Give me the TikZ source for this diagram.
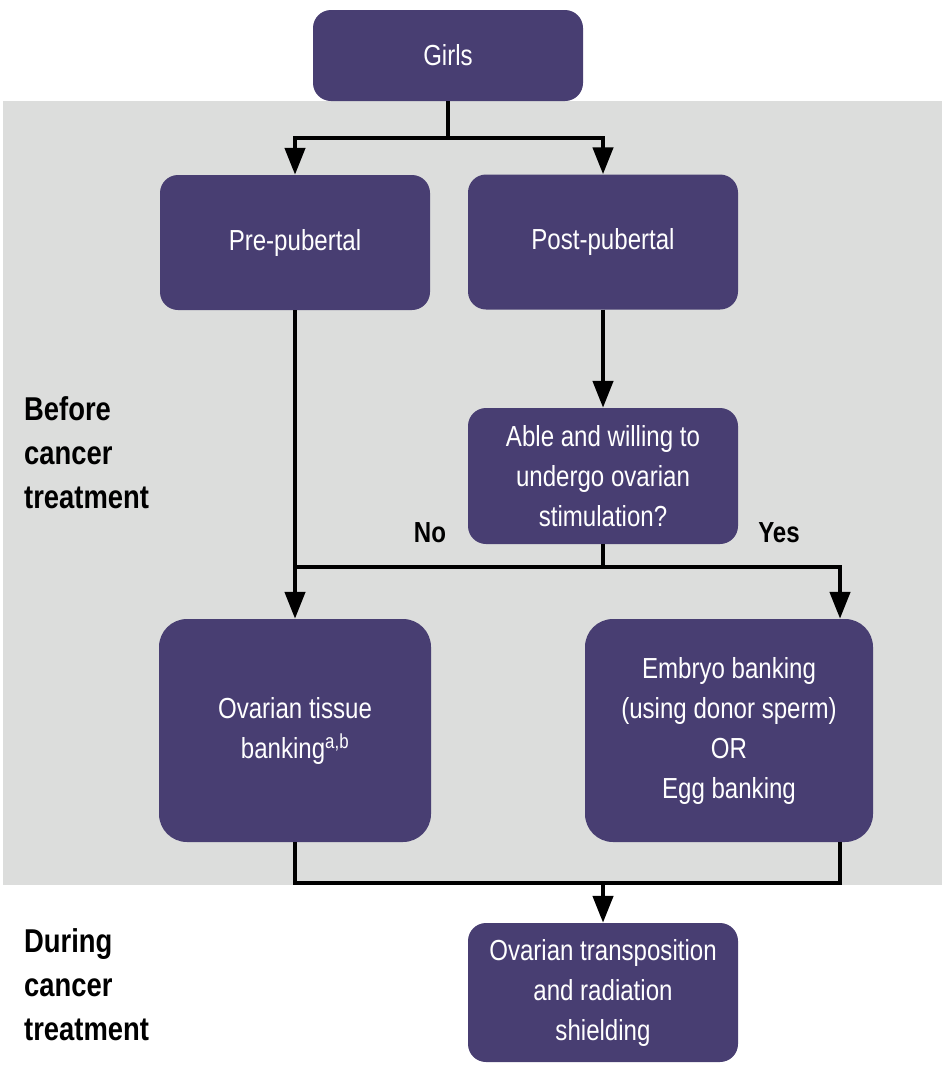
\documentclass[tikz,border=0pt]{standalone}
\usepackage{fontspec}
\setmainfont{Liberation Sans}[FakeStretch=0.83]
\usetikzlibrary{arrows.meta}
\definecolor{boxc}{HTML}{483E72}
\definecolor{bgc}{HTML}{DCDDDC}
\tikzset{
  box/.style={fill=boxc, rounded corners=18pt, text=white, align=center, inner sep=0pt,
    font=\fontsize{29}{40}\selectfont},
  conn/.style={line width=4.5pt, draw=black},
  arr/.style={conn, -{Triangle[width=20pt,length=27pt]}},
  side/.style={align=left, anchor=west, inner sep=0pt, font=\fontsize{33}{44}\selectfont\bfseries},
  yn/.style={inner sep=0pt, font=\fontsize{29}{36}\selectfont\bfseries}
}
\begin{document}
\begin{tikzpicture}[x=1pt,y=-1pt]
\useasboundingbox (0,0) rectangle (942,1066);
\fill[bgc] (3,101) rectangle (942,885);
\node[box, minimum width=270pt, minimum height=91pt] (girls) at (448,55.5) {Girls};
\node[box, minimum width=270pt, minimum height=135pt] (pre) at (295,242.5) {Pre-pubertal};
\node[box, minimum width=270pt, minimum height=135pt] (post) at (603,242) {Post-pubertal};
\node[box, minimum width=270pt, minimum height=136pt] (able) at (603,476) {Able and willing to\\undergo ovarian\\stimulation?};
\node[box, minimum width=272pt, minimum height=223pt, rounded corners=28pt] (ovt) at (295,730.5) {Ovarian tissue\\banking\textsuperscript{a,b}};
\node[box, minimum width=288pt, minimum height=223pt, rounded corners=28pt] (emb) at (729,730.5) {Embryo banking\\(using donor sperm)\\OR\\Egg banking};
\node[box, minimum width=270pt, minimum height=139pt] (trans) at (603,992.5) {Ovarian transposition\\and radiation\\shielding};
\node[side] (before) at (24,453) {Before\\cancer\\treatment};
\node[side] (during) at (24,985) {During\\cancer\\treatment};
\node[yn] (no) at (430,533) {No};
\node[yn] (yes) at (779,533) {Yes};
\coordinate (j1) at (448,138);
\coordinate (j2) at (603,567);
\coordinate (j3) at (603,883);
\draw[conn] (girls.south) -- (j1);
\draw[arr] (j1) -| (pre.north);
\draw[arr] (j1) -| (post.north);
\draw[arr] (post.south) -- (able.north);
\draw[arr] (pre.south) -- (ovt.north);
\draw[conn] (able.south) -- (j2);
\draw[conn] (pre.south |- j2) -- (j2);
\draw[arr] (j2) -| ([xshift=111pt]emb.north);
\draw[conn] (ovt.south) |- (j3) -| ([xshift=111pt]emb.south);
\draw[arr] (j3) -- (trans.north);
\end{tikzpicture}
\end{document}
